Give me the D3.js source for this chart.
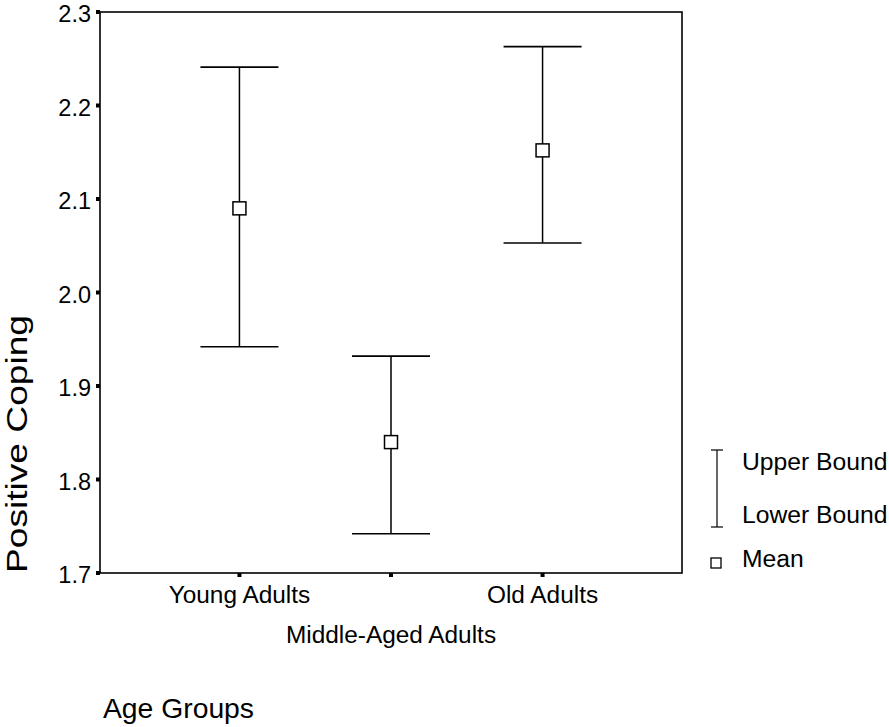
<!DOCTYPE html>
<html>
<head>
<meta charset="utf-8">
<script src="https://cdn.jsdelivr.net/npm/d3@7"></script>
<style>
  body { margin: 0; background: #fff; }
  svg text { font-family: "Liberation Sans", Arial, sans-serif; fill: #000; }
</style>
</head>
<body>
<svg id="canvas" width="889" height="727"></svg>
<script>
let groups = ['Young Adults', 'Middle-Aged Adults', 'Old Adults']
let means = [2.09, 1.84, 2.152]
let lowerBounds = [1.942, 1.742, 2.053]
let upperBounds = [2.241, 1.932, 2.263]
let yTicks = [1.7, 1.8, 1.9, 2.0, 2.1, 2.2, 2.3]

let svg = d3.select('#canvas')

let plotLeft = 100, plotRight = 682, plotTop = 12, plotBottom = 573

let x = d3.scalePoint().domain(groups).range([plotLeft, plotRight]).padding(0.92)
let y = d3.scaleLinear().domain([1.7, 2.3]).range([plotBottom, plotTop])

// frame
svg.append('rect')
    .attr('x', plotLeft).attr('y', plotTop)
    .attr('width', plotRight - plotLeft).attr('height', plotBottom - plotTop)
    .attr('fill', 'none').attr('stroke', '#000').attr('stroke-width', 1.6)

// y axis ticks + labels
let yAxis = svg.append('g')
yAxis.selectAll('rect')
    .data(yTicks)
    .enter()
    .append('rect')
    .attr('x', plotLeft - 4).attr('y', (d) => y(d) - 2)
    .attr('width', 4).attr('height', 4)
    .attr('fill', '#000')
yAxis.selectAll('text')
    .data(yTicks)
    .enter()
    .append('text')
    .attr('x', plotLeft - 9)
    .attr('y', (d) => y(d) + 10)
    .attr('text-anchor', 'end')
    .style('font-size', '23.5px')
    .text((d) => d3.format('.1f')(d))

// x axis ticks + staggered labels
let xAxis = svg.append('g')
xAxis.selectAll('rect')
    .data(groups)
    .enter()
    .append('rect')
    .attr('x', (d) => x(d) - 2).attr('y', plotBottom)
    .attr('width', 4).attr('height', 4)
    .attr('fill', '#000')
xAxis.selectAll('text')
    .data(groups)
    .enter()
    .append('text')
    .attr('x', (d) => x(d))
    .attr('y', (d, i) => i === 1 ? 643 : 603)
    .attr('text-anchor', 'middle')
    .style('font-size', '24.4px')
    .text((d) => d)

// axis titles
svg.append('text')
    .attr('x', 103).attr('y', 718)
    .style('font-size', '28.3px')
    .text('Age Groups')

svg.append('text')
    .attr('transform', 'translate(27,' + plotBottom + ') rotate(-90)')
    .attr('x', 0).attr('y', 0)
    .attr('textLength', 258)
    .attr('lengthAdjust', 'spacingAndGlyphs')
    .style('font-size', '29px')
    .text('Positive Coping')

// error bars
let capHalf = 39
let bars = svg.append('g')
    .selectAll('g')
    .data(groups)
    .enter()
    .append('g')

bars.append('line')
    .attr('x1', (d) => x(d)).attr('x2', (d) => x(d))
    .attr('y1', (d, i) => y(upperBounds[i]))
    .attr('y2', (d, i) => y(lowerBounds[i]))
    .attr('stroke', '#000').attr('stroke-width', 1.5)

bars.append('line')
    .attr('x1', (d) => x(d) - capHalf).attr('x2', (d) => x(d) + capHalf)
    .attr('y1', (d, i) => y(upperBounds[i]))
    .attr('y2', (d, i) => y(upperBounds[i]))
    .attr('stroke', '#000').attr('stroke-width', 1.6)

bars.append('line')
    .attr('x1', (d) => x(d) - capHalf).attr('x2', (d) => x(d) + capHalf)
    .attr('y1', (d, i) => y(lowerBounds[i]))
    .attr('y2', (d, i) => y(lowerBounds[i]))
    .attr('stroke', '#000').attr('stroke-width', 1.6)

bars.append('rect')
    .attr('x', (d) => x(d) - 6.5)
    .attr('y', (d, i) => y(means[i]) - 6.5)
    .attr('width', 13).attr('height', 13)
    .attr('fill', '#fff').attr('stroke', '#000').attr('stroke-width', 1.5)

// legend
let legend = svg.append('g')
legend.append('line')
    .attr('x1', 717).attr('x2', 717).attr('y1', 450).attr('y2', 527)
    .attr('stroke', '#000').attr('stroke-width', 1.2)
legend.append('line')
    .attr('x1', 711).attr('x2', 723).attr('y1', 450).attr('y2', 450)
    .attr('stroke', '#000').attr('stroke-width', 1.2)
legend.append('line')
    .attr('x1', 711).attr('x2', 723).attr('y1', 527).attr('y2', 527)
    .attr('stroke', '#000').attr('stroke-width', 1.2)
legend.append('rect')
    .attr('x', 711).attr('y', 558).attr('width', 10).attr('height', 10)
    .attr('fill', '#fff').attr('stroke', '#000').attr('stroke-width', 1.3)

let legendLabels = ['Upper Bound', 'Lower Bound', 'Mean']
let legendY = [470, 523, 567]
legend.selectAll('text')
    .data(legendLabels)
    .enter()
    .append('text')
    .attr('x', 742)
    .attr('y', (d, i) => legendY[i])
    .style('font-size', '24.7px')
    .text((d) => d)
</script>
</body>
</html>
